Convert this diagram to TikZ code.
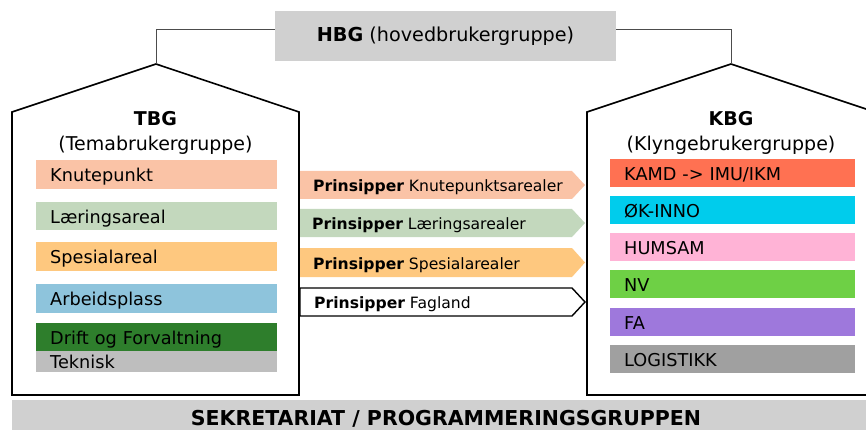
\documentclass[tikz,border=0pt]{standalone}
\usepackage{fontspec}
\setmainfont{DejaVu Sans}
\definecolor{hbggray}{HTML}{D0D0D0}
\definecolor{cpeach}{HTML}{FAC3A6}
\definecolor{csage}{HTML}{C3D8BD}
\definecolor{corange}{HTML}{FEC87F}
\definecolor{cblue}{HTML}{8EC4DC}
\definecolor{cdgreen}{HTML}{2E7E2C}
\definecolor{cgray}{HTML}{BEBEBE}
\definecolor{ckamd}{HTML}{FF7152}
\definecolor{ccyan}{HTML}{00CCEC}
\definecolor{cpink}{HTML}{FFB3D6}
\definecolor{cnv}{HTML}{6ED045}
\definecolor{cfa}{HTML}{9E78DC}
\definecolor{clog}{HTML}{A0A0A0}
\begin{document}
\begin{tikzpicture}[x=1pt,y=-1pt,
  house/.style={draw=black, line width=1.6pt, line join=miter, fill=white},
  conn/.style={draw=black!70, line width=0.9pt},
  lbar/.style={anchor=north west, minimum width=241pt, text width=213pt, inner xsep=14pt, inner ysep=0pt,
    align=left, text height=14pt, text depth=0pt, font=\fontsize{17.7}{20}\selectfont},
  rbar/.style={anchor=north west, minimum width=245pt, text width=217pt, inner xsep=14pt, inner ysep=0pt,
    align=left, text height=15pt, text depth=0pt, font=\fontsize{17.7}{20}\selectfont},
  head/.style={font=\fontsize{19}{25}\selectfont, align=center, inner sep=0pt},
  arrwhite/.style={draw=black, line width=1.4pt, fill=white, line join=miter},
  atext/.style={anchor=west, inner sep=0pt, font=\fontsize{15.6}{18}\selectfont, text height=13pt, text depth=0pt}
]
\useasboundingbox (0,0) rectangle (866,430);

% HBG box
\node[fill=hbggray, minimum width=341pt, minimum height=50pt, inner sep=0pt,
  font=\fontsize{19.2}{22}\selectfont] (hbg) at (445.5,36) {\textbf{HBG} (hovedbrukergruppe)};

% houses
\coordinate (tapex) at (156,64);
\coordinate (kapex) at (731,64);
\draw[house] (12,395) -- (12,112) -- (tapex) -- (299,112) -- (299,395) -- cycle;
\draw[house] (587,395) -- (587,112) -- (kapex) -- (875,112) -- (875,395) -- cycle;

% connectors
\draw[conn] ([yshift=7pt]hbg.west) -| (tapex);
\draw[conn] ([yshift=7pt]hbg.east) -| (kapex);

% headers
\node[head] (tbg) at (155.5,133) {\textbf{TBG}\\(Temabrukergruppe)};
\node[head] (kbg) at (731,133) {\textbf{KBG}\\(Klyngebrukergruppe)};

% left bars
\node[lbar, fill=cpeach, minimum height=29pt] (l1) at (36,160) {Knutepunkt};
\node[lbar, fill=csage, minimum height=28pt] (l2) at (36,202) {Læringsareal};
\node[lbar, fill=corange, minimum height=29pt] (l3) at (36,242) {Spesialareal};
\node[lbar, fill=cblue, minimum height=29pt] (l4) at (36,284) {Arbeidsplass};
\node[lbar, fill=cdgreen, minimum height=28pt] (l5) at (36,323) {Drift og Forvaltning};
\node[lbar, fill=cgray, minimum height=21pt] (l6) at (36,351) {Teknisk};

% right bars
\node[rbar, fill=ckamd, minimum height=28pt] (r1) at (610,159) {KAMD -> IMU/IKM};
\node[rbar, fill=ccyan, minimum height=28pt] (r2) at (610,196) {ØK-INNO};
\node[rbar, fill=cpink, minimum height=28pt] (r3) at (610,233) {HUMSAM};
\node[rbar, fill=cnv, minimum height=28pt] (r4) at (610,270) {NV};
\node[rbar, fill=cfa, minimum height=28pt] (r5) at (610,308) {FA};
\node[rbar, fill=clog, minimum height=28pt] (r6) at (610,345) {LOGISTIKK};

% principle arrows
\fill[cpeach] (300,171) -- (572,171) -- (585,185) -- (572,199) -- (300,199) -- cycle;
\fill[csage] (300,209) -- (572,209) -- (585,223) -- (572,237) -- (300,237) -- cycle;
\fill[corange] (300,248) -- (572,248) -- (585,262.5) -- (572,277) -- (300,277) -- cycle;
\draw[arrwhite] (300,288) -- (572,288) -- (585,302) -- (572,316) -- (300,316) -- cycle;
\node[atext] (p1) at (313,185) {\textbf{Prinsipper} Knutepunktsarealer};
\node[atext] (p2) at (312,223) {\textbf{Prinsipper} Læringsarealer};
\node[atext] (p3) at (313,262.5) {\textbf{Prinsipper} Spesialarealer};
\node[atext] (p4) at (314,302) {\textbf{Prinsipper} Fagland};

% bottom bar
\node[fill=hbggray, anchor=north west, minimum width=860pt, minimum height=30pt, inner sep=0pt] (sekbar) at (12,400) {};
\node[inner sep=0pt, font=\bfseries\fontsize{20.5}{23}\selectfont, text height=14.5pt, text depth=0pt] (sek) at (446,418) {SEKRETARIAT / PROGRAMMERINGSGRUPPEN};
\end{tikzpicture}
\end{document}
